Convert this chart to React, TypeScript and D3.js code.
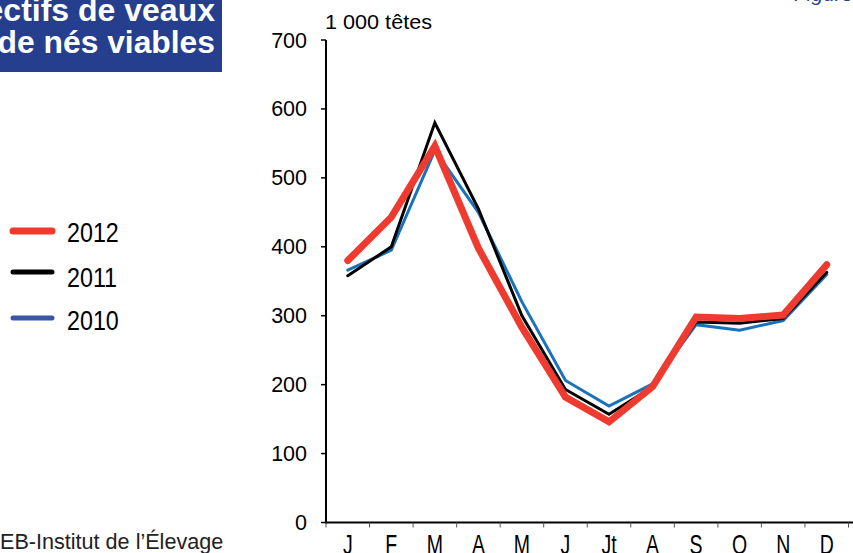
import React from "react";
import * as d3 from "d3";

const months = ["J", "F", "M", "A", "M", "J", "Jt", "A", "S", "O", "N", "D"];
const yTicks = [0, 100, 200, 300, 400, 500, 600, 700];
const v2012 = [380, 443, 546, 398, 283, 182, 146, 197, 298, 296, 301, 374];
const v2011 = [358, 400, 580, 455, 300, 193, 157, 197, 291, 289, 296, 363];
const v2010 = [366, 395, 540, 450, 320, 206, 169, 201, 287, 279, 293, 360];

const series = [
  { name: "2012", values: v2012, color: "#ef3a2f", width: 7, legendColor: "#ef3a2f" },
  { name: "2011", values: v2011, color: "#000000", width: 3, legendColor: "#000000" },
  { name: "2010", values: v2010, color: "#1a73ba", width: 3, legendColor: "#3b55a6" },
];
const drawOrder = [series[2], series[1], series[0]];

export default function App() {
  const W = 853, H = 553;
  const x0 = 326, x1 = 848.5;
  const y0 = 522.5, y1 = 40;
  const band = d3.scaleBand<number>().domain(d3.range(12)).range([x0, x1]);
  const y = d3.scaleLinear().domain([0, 700]).range([y0, y1]);
  const line = d3
    .line<number>()
    .x((_, i) => (band(i) as number) + band.bandwidth() / 2)
    .y((d) => y(d));
  const font = "'Liberation Sans', Arial, sans-serif";
  const tickPos = d3.range(13).map((i) => x0 + i * band.step());

  return (
    <svg width={W} height={H} style={{ position: "absolute", left: 0, top: 0 }} fontFamily={font}>
      <rect x={0} y={0} width={W} height={H} fill="#ffffff" />
      {/* title box */}
      <rect x={0} y={0} width={222} height={72} fill="#253f8e" />
      <text x={215} y={21} textAnchor="end" fill="#ffffff" fontWeight="bold" fontSize={32}>
        ectifs de veaux
      </text>
      <text x={215} y={53} textAnchor="end" fill="#ffffff" fontWeight="bold" fontSize={31.8}>
        de nés viables
      </text>
      {/* figure label cut at top */}
      <text x={794} y={1} fill="#253f8e" fontStyle="italic" fontSize={21}>
        Figure
      </text>
      {/* unit */}
      <text x={325} y={28.5} fontSize={20} fill="#000" textLength={107} lengthAdjust="spacingAndGlyphs">
        1 000 têtes
      </text>
      {/* y axis */}
      <line x1={x0} x2={x0} y1={y1} y2={y0 + 1} stroke="#000" strokeWidth={2} />
      {yTicks.map((t) => (
        <g key={t}>
          <line x1={x0 - 5} x2={x0} y1={y(t)} y2={y(t)} stroke="#000" strokeWidth={1.5} />
          <text x={307} y={y(t) + 7.5} textAnchor="end" fontSize={21.5} fill="#000">
            {t}
          </text>
        </g>
      ))}
      {/* x axis */}
      <line x1={x0 - 1} x2={W} y1={y0} y2={y0} stroke="#000" strokeWidth={2} />
      {tickPos.map((p, i) => (
        <line key={i} x1={p} x2={p} y1={y0} y2={y0 + 5} stroke="#555" strokeWidth={1} />
      ))}
      {months.map((m, i) => (
        <text
          key={i}
          transform={`translate(${(band(i) as number) + band.bandwidth() / 2},554) scale(1,1.45)`}
          textAnchor="middle"
          fontSize={19.5}
          fill="#000"
        >
          {m}
        </text>
      ))}
      {/* lines */}
      {drawOrder.map((s) => (
        <path
          key={s.name}
          d={line(s.values) as string}
          fill="none"
          stroke={s.color}
          strokeWidth={s.width}
          strokeLinejoin="miter"
          strokeLinecap="round"
        />
      ))}
      {/* legend */}
      {series.map((s, i) => {
        const ly = [231, 272, 318][i];
        const by = [241.7, 286.7, 330][i];
        return (
          <g key={s.name}>
            <line
              x1={13}
              x2={52}
              y1={ly}
              y2={ly}
              stroke={s.legendColor}
              strokeWidth={i === 0 ? 7 : 5}
              strokeLinecap="round"
            />
            <text transform={`translate(67,${by}) scale(1,1.2)`} fontSize={23.3} fill="#000">
              {s.name}
            </text>
          </g>
        );
      })}
      {/* source */}
      <text x={0} y={549} fontSize={21.6} fill="#222">
        EB-Institut de l’Élevage
      </text>
    </svg>
  );
}
